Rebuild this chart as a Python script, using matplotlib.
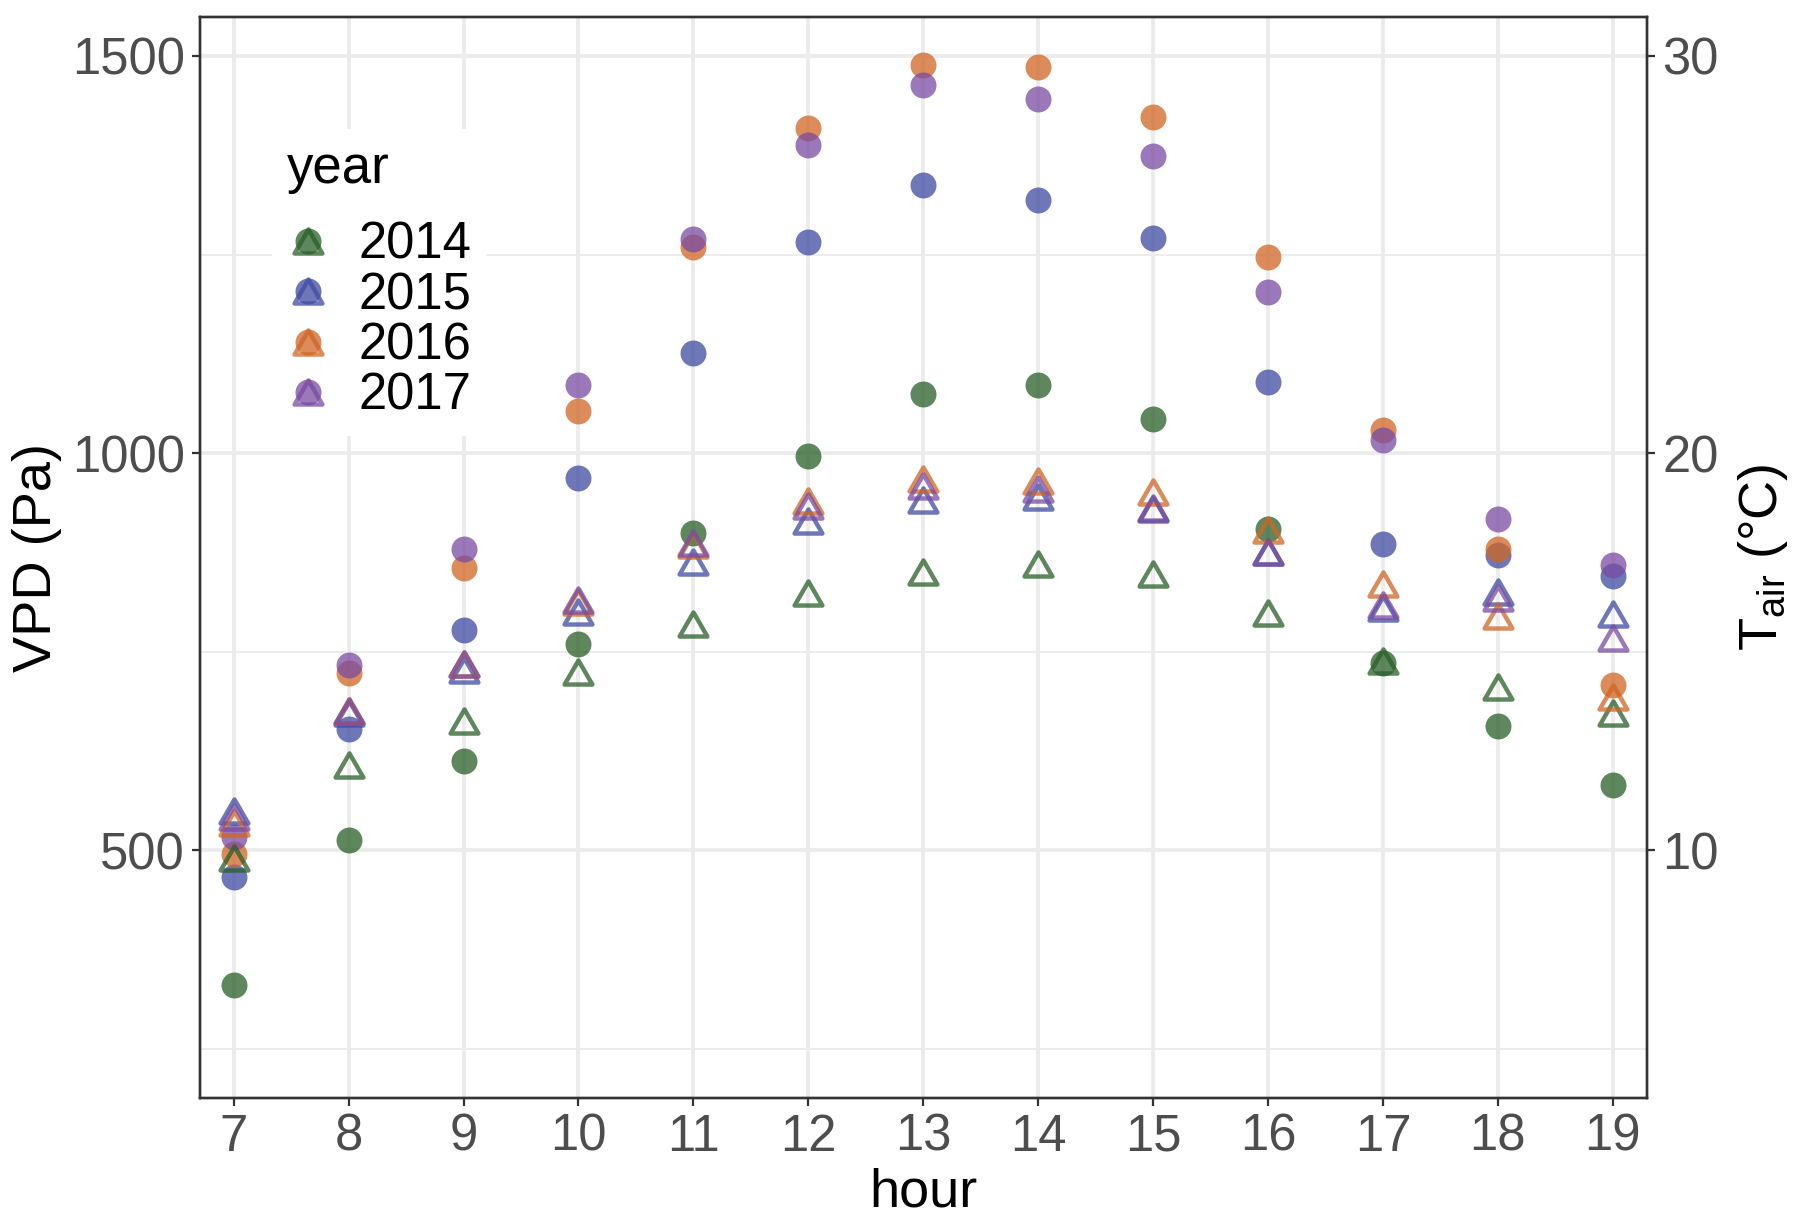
import matplotlib
matplotlib.use('Agg')
import matplotlib.pyplot as plt
from matplotlib.lines import Line2D
from matplotlib.path import Path

plt.rcParams['font.family'] = ['Liberation Sans', 'DejaVu Sans']
plt.rcParams['mathtext.fontset'] = 'custom'
plt.rcParams['mathtext.rm'] = 'Liberation Sans'

# ---------------- data ----------------
hours = [7, 8, 9, 10, 11, 12, 13, 14, 15, 16, 17, 18, 19]
years = ['2014', '2015', '2016', '2017']

vpd_2014 = [331, 513, 613, 760, 900, 997, 1074, 1086, 1043, 905, 736, 656, 582]
vpd_2015 = [467, 653, 777, 969, 1126, 1266, 1337, 1319, 1271, 1090, 886, 872, 846]
vpd_2016 = [495, 723, 856, 1053, 1260, 1409, 1488, 1486, 1423, 1247, 1029, 880, 708]
vpd_2017 = [517, 733, 879, 1086, 1269, 1388, 1464, 1446, 1374, 1203, 1017, 917, 859]

tair_2014 = [9.8, 12.16, 13.25, 14.5, 15.7, 16.47, 17.02, 17.22, 16.97, 15.98, 14.76, 14.12, 13.46]
tair_2015 = [11.0, 13.45, 14.55, 16.0, 17.26, 18.3, 18.83, 18.9, 18.6, 17.5, 16.1, 16.5, 15.94]
tair_2016 = [10.7, 13.5, 14.7, 16.25, 17.7, 18.8, 19.34, 19.3, 19.03, 18.07, 16.7, 15.9, 13.85]
tair_2017 = [10.85, 13.5, 14.7, 16.3, 17.74, 18.66, 19.18, 19.1, 18.63, 17.52, 16.18, 16.36, 15.35]

vpd_ticks = [500, 1000, 1500]
vpd_minor = [250, 750, 1250]
tair_ticks = [10, 20, 30]

colors = ['#285F28', '#3E4BA2', '#D06623', '#7A4BA2']
vpd_all = [vpd_2014, vpd_2015, vpd_2016, vpd_2017]
tair_all = [tair_2014, tair_2015, tair_2016, tair_2017]

VPD_LIM = (189, 1549)
SCALE = 50.0  # Pa per degC on the secondary axis

# ---------------- figure ----------------
fig = plt.figure(figsize=(18.05, 12.23), dpi=100)
ax = fig.add_axes([0.111, 0.1026, 0.8016, 0.8835])
ax2 = ax.twinx()

tri = Path([(0, 0.866), (-1, -0.866), (1, -0.866), (0, 0.866)],
           [Path.MOVETO, Path.LINETO, Path.LINETO, Path.CLOSEPOLY])

ALPHA = 0.75
circ_ms = 18.7
tri_ms = 20
tri_mew = 3.2

for v, c in zip(vpd_all, colors):
    ax.plot(hours, v, ls='none', marker='o', ms=circ_ms, mfc=c, mec='none', alpha=ALPHA)
for t, c in zip(tair_all, colors):
    ax2.plot(hours, t, ls='none', marker=tri, ms=tri_ms, mfc='none', mec=c,
             mew=tri_mew, alpha=ALPHA)

ax.set_xlim(6.71, 19.30)
ax.set_ylim(*VPD_LIM)
ax2.set_ylim(VPD_LIM[0] / SCALE, VPD_LIM[1] / SCALE)

ax.set_xticks(hours)
ax.set_xticklabels([str(h) for h in hours])
ax.set_yticks(vpd_ticks)
ax.set_yticks(vpd_minor, minor=True)
ax2.set_yticks(tair_ticks)

ax.grid(True, which='major', color='#EBEBEB', lw=2.7)
ax.grid(True, which='minor', axis='y', color='#EBEBEB', lw=1.3)
ax.set_axisbelow(True)

tick_color = '#4D4D4D'
for a in (ax, ax2):
    a.tick_params(axis='both', which='major', labelsize=36.5, colors='#333333',
                  labelcolor=tick_color, length=6, width=1.6, pad=5)
    a.tick_params(axis='y', which='minor', length=0)
    for s in a.spines.values():
        s.set_color('#333333')
        s.set_linewidth(1.7)

ax.set_xlabel('hour', fontsize=39, labelpad=4)
ax.set_ylabel('VPD (Pa)', fontsize=39, labelpad=7.5)
ax2.set_ylabel(r'$\mathregular{T_{air}}$ (°C)', fontsize=39, labelpad=12)

# legend
handles = []
for c in colors:
    h1 = Line2D([], [], ls='none', marker='o', ms=circ_ms, mfc=c, mec='none', alpha=ALPHA)
    h2 = Line2D([], [], ls='none', marker=tri, ms=tri_ms, mfc='none', mec=c,
                mew=tri_mew, alpha=ALPHA)
    handles.append((h1, h2))
leg = ax2.legend(handles, years, title='year', loc='upper left',
                 bbox_to_anchor=(0.0496, 0.8963), borderaxespad=0,
                 frameon=True, fancybox=False,
                 facecolor='white', edgecolor='none', framealpha=1,
                 fontsize=36.5, title_fontsize=38, handlelength=0.8,
                 handletextpad=0.6, labelspacing=0.027, borderpad=0.3,
                 alignment='left', numpoints=1)
leg._legend_box.sep = 19

fig.savefig('out.png', dpi=100, facecolor='white')
